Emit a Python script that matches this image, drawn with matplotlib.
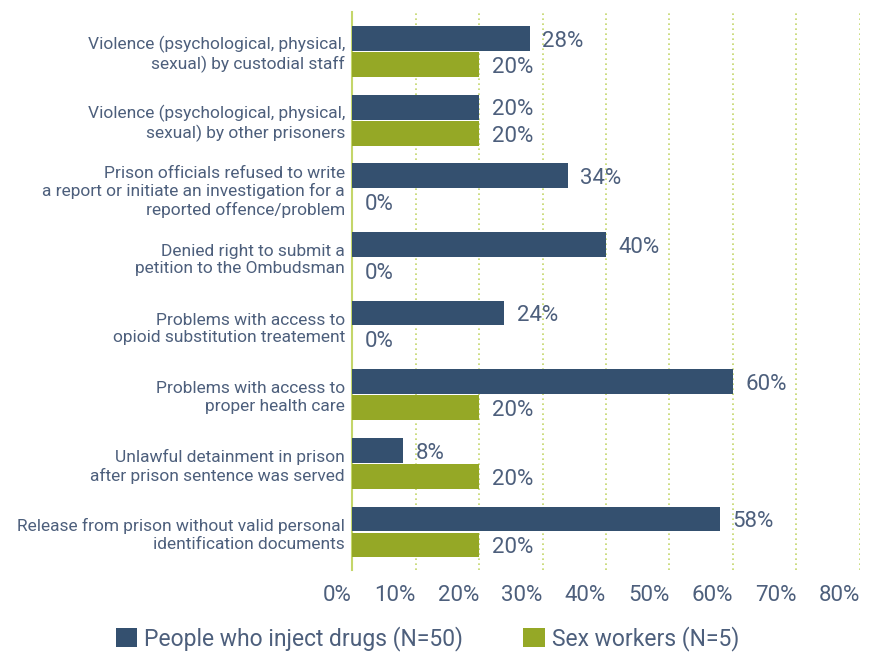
import numpy as np
from matplotlib import pyplot as plt
from matplotlib import rc
from matplotlib.ticker import FuncFormatter

rc('font', family=['Roboto', 'DejaVu Sans'])

categories = [
    'Violence (psychological, physical,\nsexual) by custodial staff',
    'Violence (psychological, physical,\nsexual) by other prisoners',
    'Prison officials refused to write\na report or initiate an investigation for a\nreported offence/problem',
    'Denied right to submit a\npetition to the Ombudsman',
    'Problems with access to\nopioid substitution treatement',
    'Problems with access to\nproper health care',
    'Unlawful detainment in prison\nafter prison sentence was served',
    'Release from prison without valid personal\nidentification documents',
]
pwid = [28, 20, 34, 40, 24, 60, 8, 58]
sex_workers = [20, 20, 0, 0, 0, 20, 20, 20]
series_names = ['People who inject drugs (N=50)', 'Sex workers (N=5)']
xticks = [0, 10, 20, 30, 40, 50, 60, 70, 80]

dark = '#34506f'
green = '#95a826'
text_col = '#4d5f7c'
grid_col = '#c4d66a'

fig = plt.figure(figsize=(8.72, 6.52), dpi=100)
ax = fig.add_axes([0.4037, 0.126, 0.5825, 0.856])

n = len(categories)
y = np.arange(n)[::-1]
h = 0.36
b1 = ax.barh(y + 0.19, pwid, height=h, color=dark, label=series_names[0], zorder=3)
b2 = ax.barh(y - 0.19, sex_workers, height=h, color=green, label=series_names[1], zorder=3)

for bars, vals in ((b1, pwid), (b2, sex_workers)):
    for bar, v in zip(bars, vals):
        ax.annotate('%d%%' % v, (v, bar.get_y() + bar.get_height() / 2),
                    xytext=(9, -2), textcoords='offset points',
                    ha='left', va='center', fontsize=16, color=text_col)

ax.set_xlim(0, 80)
ax.set_ylim(-0.55, 7.58)
ax.set_xticks(xticks)
ax.xaxis.set_major_formatter(FuncFormatter(lambda v, p: '%d%%' % v))
ax.set_yticks(y)
ax.set_yticklabels(categories, fontsize=12.5, color=text_col, linespacing=1.2)
ax.tick_params(axis='x', length=0, labelsize=16, labelcolor=text_col, pad=11)
ax.tick_params(axis='y', length=0, pad=5)
for lab in ax.get_xticklabels():
    lab.set_horizontalalignment('right')

ax.xaxis.grid(True, linestyle=(0, (1, 2)), color=grid_col, linewidth=1.2, zorder=0)
ax.set_axisbelow(True)
for s in ['top', 'right', 'bottom']:
    ax.spines[s].set_visible(False)
ax.spines['left'].set_color(grid_col)
ax.spines['left'].set_linewidth(1.5)

fig.legend(handles=[b1, b2], loc='lower left', bbox_to_anchor=(0.109, -0.03),
           ncol=2, frameon=False, fontsize=16.5, labelcolor=text_col,
           handlelength=0.95, handleheight=0.95, handletextpad=0.3, columnspacing=2.6)

fig.savefig('out.png', dpi=100)
